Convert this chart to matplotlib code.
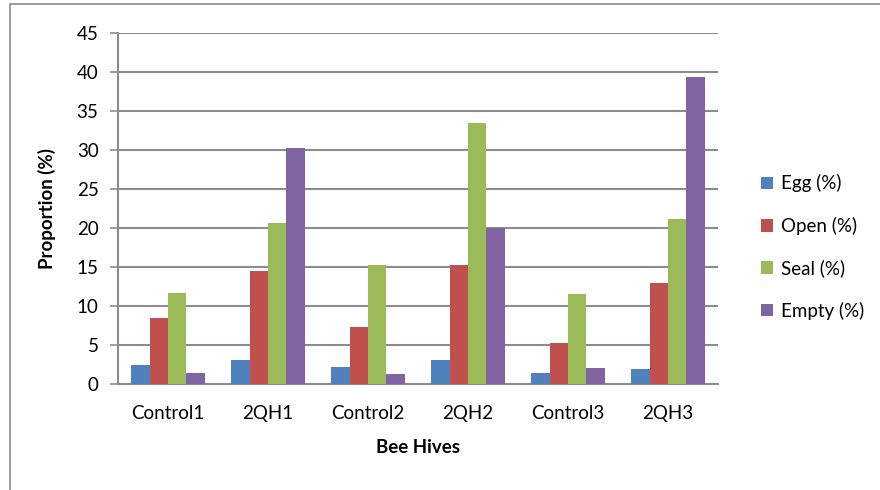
import numpy as np
import matplotlib
matplotlib.use("Agg")
import matplotlib.pyplot as plt
from matplotlib.patches import Rectangle

# Data
hives = ['Control1', '2QH1', 'Control2', '2QH2', 'Control3', '2QH3']
egg = [2.5, 3.1, 2.2, 3.1, 1.4, 1.9]
open_ = [8.5, 14.5, 7.3, 15.3, 5.2, 12.9]
seal = [11.7, 20.7, 15.2, 33.5, 11.5, 21.2]
empty = [1.4, 30.3, 1.3, 20.0, 2.0, 39.4]

series = [('Egg (%)', egg, '#4F81BD'),
          ('Open (%)', open_, '#C0504D'),
          ('Seal (%)', seal, '#9BBB59'),
          ('Empty (%)', empty, '#8064A2')]

plt.rcParams['font.family'] = ['Lato', 'DejaVu Sans']
grid_col = '#8C8C8C'
fs = 13.5

fig = plt.figure(figsize=(8.8, 4.9), dpi=100)
ax = fig.add_axes([118/880, 1 - 384/490, 600/880, 351/490])

x = np.arange(len(hives))
w = 0.183
for i, (lab, vals, col) in enumerate(series):
    ax.bar(x + (i - 1.5) * w, vals, width=w, color=col, label=lab, zorder=3)

ax.set_xlim(-0.5, len(hives) - 0.5)
ax.set_ylim(0, 45)
ax.set_yticks(np.arange(0, 46, 5))
ax.set_xticks(x)
ax.set_xticklabels(hives)
ax.yaxis.grid(True, color=grid_col, linewidth=1.5, zorder=0)
ax.tick_params(axis='x', length=0, pad=15, labelsize=fs)
ax.tick_params(axis='y', length=6, width=1.2, color=grid_col, pad=8, labelsize=fs)
for s in ['top', 'right']:
    ax.spines[s].set_visible(False)
for s in ['left', 'bottom']:
    ax.spines[s].set_color(grid_col)
    ax.spines[s].set_linewidth(1.5)

ax.set_xlabel('Bee Hives', fontweight='bold', fontsize=fs, labelpad=12)
ax.set_ylabel('Proportion (%)', fontweight='bold', fontsize=fs, labelpad=15)

fig.legend(loc='center left', bbox_to_anchor=(744/880, 1 - 247/490),
           frameon=False, fontsize=fs, handlelength=0.65, handleheight=0.65,
           handletextpad=0.4, labelspacing=1.3)

# outer chart border
fig.add_artist(Rectangle((10/880, -0.1), 1.2, 1.1 - 4/490, transform=fig.transFigure,
                         fill=False, edgecolor=grid_col, linewidth=1.2))

fig.savefig('out.png', dpi=100)
